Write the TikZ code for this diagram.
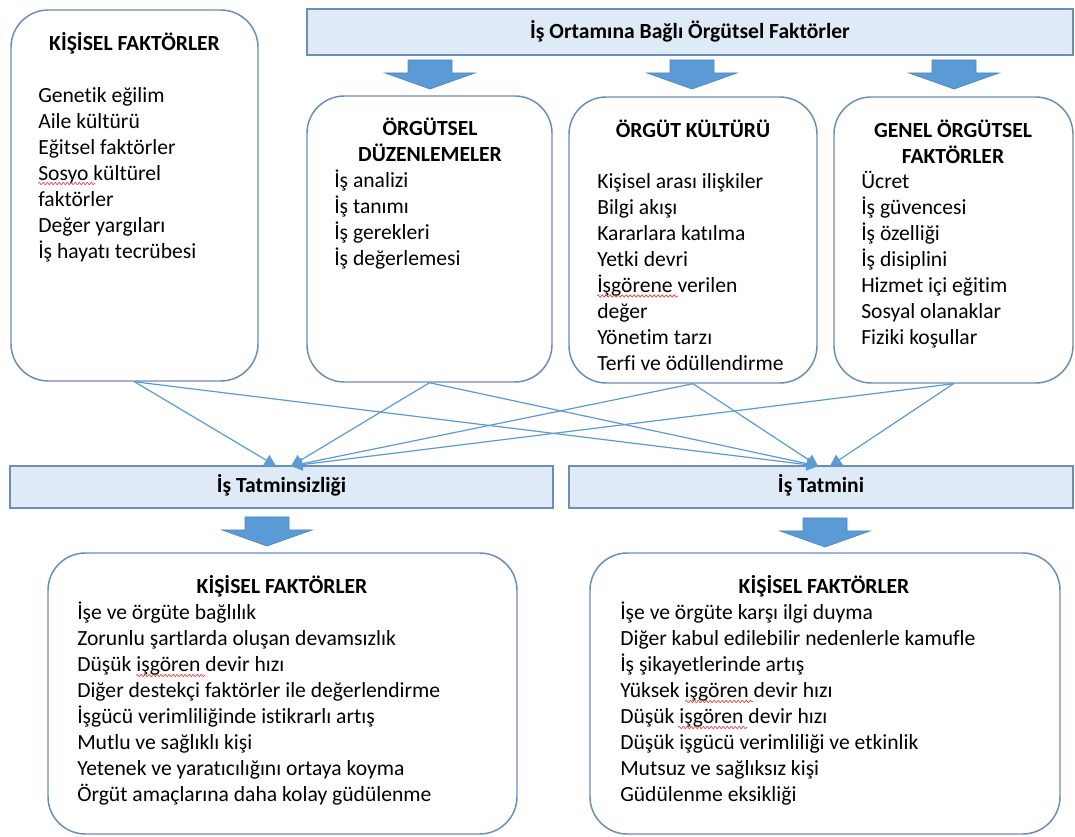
\documentclass[tikz,border=0pt]{standalone}
\usepackage{fontspec}
\setmainfont{Carlito}[Ligatures=NoCommon]
\usetikzlibrary{arrows.meta,fit,decorations.pathmorphing}

\definecolor{boxline}{HTML}{6A8CBA}
\definecolor{barline}{HTML}{6C8EBB}
\definecolor{barfill}{HTML}{DEEAF6}
\definecolor{flowblue}{HTML}{5B9BD5}
\definecolor{arrowedge}{HTML}{4F86C2}
\definecolor{spellred}{HTML}{E04040}

\newcommand\bodyfont{\fontsize{16.2}{19.5}\selectfont}

\tikzset{
  rbox/.style={draw=boxline, line width=1.1pt, rounded corners=28pt, fill=white, inner sep=0pt},
  bar/.style={draw=barline, line width=1pt, fill=barfill, inner sep=0pt},
  items/.style={font=\bodyfont, align=left, inner sep=0pt, anchor=north west},
  heading/.style={font=\bodyfont\bfseries, align=center, inner sep=0pt, anchor=north},
  barlabel/.style={font=\bodyfont\bfseries, inner sep=0pt, anchor=base},
  conn/.style={draw=flowblue, line width=0.9pt, -{Triangle[length=8.5pt,width=9pt]}},
  spellwave/.style={draw=spellred, line width=0.5pt,
    decorate, decoration={snake, segment length=3pt, amplitude=0.9pt}},
  downarrow/.pic={
    \draw[fill=flowblue, draw=arrowedge, line width=0.5pt]
      (-22,0) -- (22,0) -- (22,13) -- (45,13) -- (0,29) -- (-45,13) -- (-22,13) -- cycle;
  }
}

\begin{document}
\begin{tikzpicture}[x=0.75pt, y=-0.75pt]
\useasboundingbox (0,0) rectangle (1075,837);

% frames
\node[bar, fit={(307,9)(1073,55)}] (ortam) {};
\node[rbox, fit={(11,10)(258,381)}] (kisisel) {};
\node[rbox, fit={(307,96)(552,382)}] (duzen) {};
\node[rbox, fit={(569,97)(817,383)}] (kultur) {};
\node[rbox, fit={(834,97)(1073,383)}] (genel) {};
\node[bar, fit={(10,466)(553,508)}] (tatminsiz) {};
\node[bar, fit={(569,466)(1073,508)}] (tatmin) {};
\node[rbox, fit={(48,553)(517,834)}] (sonucA) {};
\node[rbox, fit={(590,553)(1060,834)}] (sonucB) {};

% block arrows
\pic at (430,60) {downarrow};
\pic at (692,60) {downarrow};
\pic at (954,60) {downarrow};
\pic at (267,517) {downarrow};
\pic at (825,518) {downarrow};

% bar labels
\node[barlabel] (ortam-t) at (690,38.3) {İş Ortamına Bağlı Örgütsel Faktörler};
\node[barlabel] (tatminsiz-t) at (281.5,493) {İş Tatminsizliği};
\node[barlabel] (tatmin-t) at (821,493) {İş Tatmini};

% upper boxes
\node[heading] (kisisel-h) at (134.5,31.8) {\strut KİŞİSEL FAKTÖRLER};
\node[items] (kisisel-l) at (38,83.8) {\strut Genetik eğilim\\
  Aile kültürü\\
  Eğitsel faktörler\\
  Sosyo kültürel\\
  faktörler\\
  Değer yargıları\\
  İş hayatı tecrübesi};

\node[heading] (duzen-h) at (430,116.8) {\strut ÖRGÜTSEL\\DÜZENLEMELER};
\node[items] (duzen-l) at (334,168.8) {\strut İş analizi\\
  İş tanımı\\
  İş gerekleri\\
  İş değerlemesi};

\node[heading] (kultur-h) at (693,118.8) {\strut ÖRGÜT KÜLTÜRÜ};
\node[items] (kultur-l) at (597,170.3) {\strut Kişisel arası ilişkiler\\
  Bilgi akışı\\
  Kararlara katılma\\
  Yetki devri\\
  İşgörene verilen\\
  değer\\
  Yönetim tarzı\\
  Terfi ve ödüllendirme};

\node[heading] (genel-h) at (953,118.8) {\strut GENEL ÖRGÜTSEL\\FAKTÖRLER};
\node[items] (genel-l) at (861,169.8) {\strut Ücret\\
  İş güvencesi\\
  İş özelliği\\
  İş disiplini\\
  Hizmet içi eğitim\\
  Sosyal olanaklar\\
  Fiziki koşullar};

% lower boxes
\node[heading] (sonucA-h) at (282,574.8) {\strut KİŞİSEL FAKTÖRLER};
\node[items] (sonucA-l) at (77,600.8) {\strut İşe ve örgüte bağlılık\\
  Zorunlu şartlarda oluşan devamsızlık\\
  Düşük işgören devir hızı\\
  Diğer destekçi faktörler ile değerlendirme\\
  İşgücü verimliliğinde istikrarlı artış\\
  Mutlu ve sağlıklı kişi\\
  Yetenek ve yaratıcılığını ortaya koyma\\
  Örgüt amaçlarına daha kolay güdülenme};

\node[heading] (sonucB-h) at (824,574.8) {\strut KİŞİSEL FAKTÖRLER};
\node[items] (sonucB-l) at (620,600.8) {\strut İşe ve örgüte karşı ilgi duyma\\
  Diğer kabul edilebilir nedenlerle kamufle\\
  İş şikayetlerinde artış\\
  Yüksek işgören devir hızı\\
  Düşük işgören devir hızı\\
  Düşük işgücü verimliliği ve etkinlik\\
  Mutsuz ve sağlıksız kişi\\
  Güdülenme eksikliği};

% spelling marks under a few words
\draw[spellwave] (38,183.5) -- (95,183.5);
\draw[spellwave] (597,296) -- (678,296);
\draw[spellwave] (136,675.5) -- (205,675.5);
\draw[spellwave] (685,701.5) -- (753,701.5);
\draw[spellwave] (678,727.5) -- (747,727.5);

% entry points on the two result bars
\coordinate (inL1) at (276,466);
\coordinate (inL2) at (291,466);
\coordinate (inR1) at (818,466);
\coordinate (inR2) at (830,466);

% connectors
\draw[conn] (kisisel.south) -- (inL1);
\draw[conn] (kisisel.south) -- (inR1);
\draw[conn] (duzen.south) -- (inL2);
\draw[conn] (duzen.south) -- (inR1);
\draw[conn] (kultur.south) -- (inL2);
\draw[conn] (kultur.south) -- (inR1);
\draw[conn] (genel.south) -- (inL2);
\draw[conn] (genel.south) -- (inR2);
\end{tikzpicture}
\end{document}
